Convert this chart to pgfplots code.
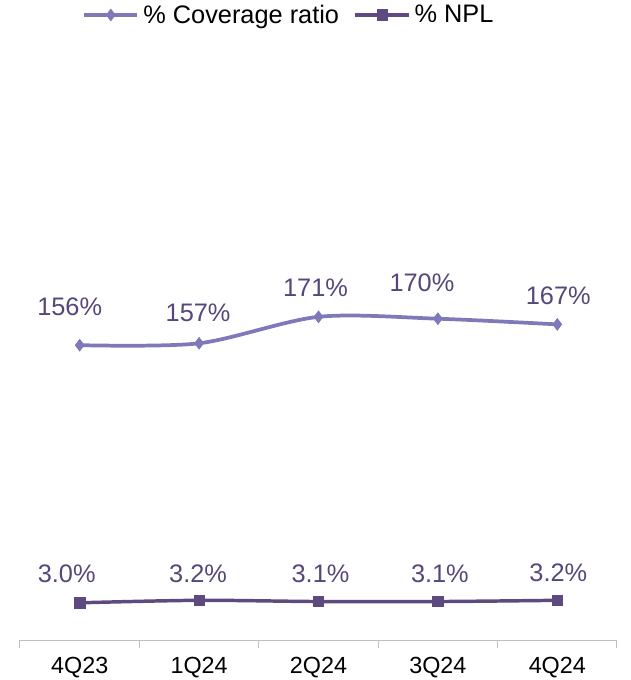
\documentclass[border=0pt]{standalone}
\usepackage{fontspec}
\setmainfont{Liberation Sans}
\usepackage{pgfplots}
\pgfplotsset{compat=1.18}
\usetikzlibrary{calc}
\definecolor{cov}{HTML}{8079B9}
\definecolor{npl}{HTML}{5E4A7F}
\definecolor{lab}{HTML}{56467A}
\definecolor{axgray}{HTML}{BFBFBF}
\begin{document}
\begin{tikzpicture}
\pgfplotsset{
  base/.style={width=447.75pt, height=435pt, scale only axis, xmin=-0.5, xmax=4.5, clip=false,
    /pgf/number format/assume math mode=true},
  lbl/.style={nodes near coords, point meta=explicit symbolic,
    visualization depends on={value \thisrow{dx}\as\dx},
    visualization depends on={value \thisrow{dy}\as\dy},
    nodes near coords align={center},
    nodes near coords style={anchor=center, xshift=\dx pt, yshift=\dy pt,
      font=\fontsize{19}{22}\selectfont, text=lab, inner sep=0pt}},
  covstyle/.style={color=cov, line width=2.8pt, smooth, mark=diamond*, mark size=4.4pt, mark options={fill=cov, draw=cov, line width=0.5pt}},
  nplstyle/.style={color=npl, line width=2.6pt, smooth, mark=square*, mark size=3.9pt, mark options={fill=npl, draw=npl, line width=0.5pt}},
}
\begin{axis}[base, name=ax, ymin=0, ymax=306.9,
  axis y line=none, axis x line*=bottom,
  x axis line style={-, draw=axgray, line width=0.75pt},
  xtick={0,1,2,3,4}, xticklabels={4Q23,1Q24,2Q24,3Q24,4Q24},
  major tick length=0pt, minor tick length=6pt, tick align=outside,
  minor xtick={-0.5,0.5,1.5,2.5,3.5,4.5},
  major x tick style={draw=none},
  minor x tick style={draw=axgray, line width=0.75pt},
  xticklabel style={font=\fontsize{17.5}{20}\selectfont, anchor=base, yshift=-25pt, text=black},
  legend style={at={(0.452,1.0776)}, anchor=center, draw=none, fill=none,
    legend columns=-1, font=\fontsize{19}{22}\selectfont,
    nodes={inner xsep=3pt, inner ysep=1pt},
    /tikz/every even column/.append style={column sep=8pt}},
  legend image code/.code={\draw[#1, mark=none] (0pt,0pt) -- (40pt,0pt);
    \draw[#1] plot coordinates {(20pt,0pt)};},
]
\addlegendimage{covstyle}
\addlegendentry{\% Coverage ratio}
\addlegendimage{nplstyle}
\addlegendentry{\% NPL}
\addplot[covstyle, lbl] table[x=x, y=y, meta=lab] {
x y lab dx dy
0 156 156\% -7.5 28.5
1 157 157\% -0.75 22.5
2 171 171\% -2.25 21.75
3 170 170\% -12 27
4 167 167\% 0.75 21.75
};
\end{axis}
\begin{axis}[base, ymin=0, ymax=46.77, hide axis]
\addplot[nplstyle, lbl] table[x=x, y=y, meta=lab] {
x y lab dx dy
0 3.0 3.0\% -9.75 21.75
1 3.2 3.2\% -0.75 20.25
2 3.1 3.1\% 1.5 21
3 3.1 3.1\% 1.5 21
4 3.2 3.2\% 0.75 21
};
\end{axis}
\pgfresetboundingbox
\path ($(ax.south west)+(-15pt,-30pt)$) rectangle ($(ax.north east)+(10.5pt,45pt)$);
\end{tikzpicture}
\end{document}
